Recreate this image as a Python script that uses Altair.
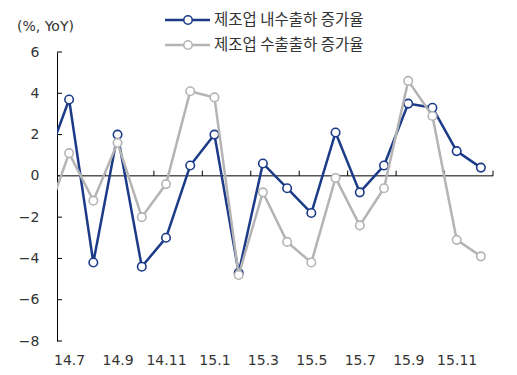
import altair as alt
import pandas as pd

# ---- data ----
months = ["14.6", "14.7", "14.8", "14.9", "14.10", "14.11", "14.12",
          "15.1", "15.2", "15.3", "15.4", "15.5", "15.6",
          "15.7", "15.8", "15.9", "15.10", "15.11", "15.12"]
domestic = [0.5, 3.7, -4.2, 2.0, -4.4, -3.0, 0.5, 2.0, -4.7, 0.6,
            -0.6, -1.8, 2.1, -0.8, 0.5, 3.5, 3.3, 1.2, 0.4]
export = [-2.2, 1.1, -1.2, 1.6, -2.0, -0.4, 4.1, 3.8, -4.8, -0.8,
          -3.2, -4.2, -0.1, -2.4, -0.6, 4.6, 2.9, -3.1, -3.9]
series_names = ["제조업 내수출하 증가율", "제조업 수출출하 증가율"]
series_colors = ["#1B3A87", "#B4B4B4"]
y_ticks = [-8, -6, -4, -2, 0, 2, 4, 6]
x_label_idx = [1, 3, 5, 7, 9, 11, 13, 15, 17]
x_tick_pos = [2.5, 4.5, 6.5, 8.5, 10.5, 12.5, 14.5, 16.5, 18.5]
unit_label = "(%, YoY)"

W, H = 436, 289
FONT = "DejaVu Sans"
KFONT = "Noto Sans CJK KR"

rows = []
for name, vals in zip(series_names, [domestic, export]):
    for i, (m, v) in enumerate(zip(months, vals)):
        rows.append({"idx": i, "month": m, "value": v, "series": name})
df = pd.DataFrame(rows)

label_expr = "[" + ",".join("'%s'" % m for m in months) + "][datum.value]"

xscale = alt.Scale(domain=[0.5, 18.5], nice=False, zero=False)
yscale = alt.Scale(domain=[-8, 6], nice=False, zero=False)

x_axis = alt.Axis(values=x_label_idx, labelExpr=label_expr, domain=False, ticks=False,
                  grid=False, labelPadding=12, labelFont=FONT, labelFontSize=14,
                  labelColor="#333333", title=None)
y_axis = alt.Axis(values=y_ticks, domain=True, domainColor="black", domainWidth=1,
                  ticks=False, grid=False, labelPadding=18, labelFont=FONT,
                  labelFontSize=14, labelColor="#333333", title=None,
                  labelFlush=False, format="d")

base = alt.Chart(df)

# axis frame helpers
zero_df = pd.DataFrame({"a": [0.5], "b": [18.5], "y": [0]})
zero_line = alt.Chart(zero_df).mark_rule(color="black", strokeWidth=1).encode(
    x=alt.X("a:Q", scale=xscale, axis=x_axis),
    x2="b:Q",
    y=alt.Y("y:Q", scale=yscale, axis=y_axis),
)
xt_df = pd.DataFrame({"x": x_tick_pos})
x_ticks = alt.Chart(xt_df).mark_rule(color="black", strokeWidth=1).encode(
    x=alt.X("x:Q", scale=xscale),
    y=alt.datum(0),
    y2=alt.datum(0.25),
)
yt_df = pd.DataFrame({"y": y_ticks})
y_tick_marks = alt.Chart(yt_df).mark_rule(color="black", strokeWidth=1).encode(
    x=alt.value(0),
    x2=alt.value(5),
    y=alt.Y("y:Q", scale=yscale),
)

layers = [zero_line, x_ticks, y_tick_marks]
for name, col in zip(series_names, series_colors):
    sub = base.transform_filter(alt.datum.series == name)
    line = sub.mark_line(clip=True, strokeWidth=2.5, color=col).encode(
        x=alt.X("idx:Q", scale=xscale),
        y=alt.Y("value:Q", scale=yscale),
        order="idx:Q",
    )
    pts = sub.transform_filter(alt.datum.idx >= 1).mark_point(
        shape="circle", filled=True, fill="white", stroke=col, strokeWidth=1.6,
        size=72, opacity=1, clip=True,
    ).encode(
        x=alt.X("idx:Q", scale=xscale),
        y=alt.Y("value:Q", scale=yscale),
    )
    layers += [line, pts]

# manual legend
leg_df = pd.DataFrame({"series": series_names, "color": series_colors, "row": [0, 1]})
leg_ypix = {0: -32, 1: -7}
for i, (name, col) in enumerate(zip(series_names, series_colors)):
    one = alt.Chart(leg_df).transform_filter(alt.datum.row == i)
    ly = leg_ypix[i]
    layers.append(one.mark_rule(color=col, strokeWidth=2.5).encode(
        x=alt.value(108), x2=alt.value(153), y=alt.value(ly)))
    layers.append(one.mark_point(shape="circle", filled=True, fill="white", stroke=col,
                                 strokeWidth=1.6, size=72, opacity=1).encode(
        x=alt.value(131), y=alt.value(ly)))
    layers.append(one.mark_text(align="left", baseline="middle", font=KFONT,
                                fontSize=15.5, color="#333333").encode(
        x=alt.value(157), y=alt.value(ly), text="series:N"))

unit_df = pd.DataFrame({"t": [unit_label]})
layers.append(alt.Chart(unit_df).mark_text(align="left", baseline="middle", font=FONT,
                                           fontSize=14, color="#333333").encode(
    x=alt.value(-40), y=alt.value(-25), text="t:N"))

chart = alt.layer(*layers).properties(
    width=W, height=H,
    autosize=alt.AutoSizeParams(type="none"),
    padding={"left": 49, "top": 44, "right": 16, "bottom": 26},
    background="white",
).configure_view(stroke=None)

chart.save("out.html", embed_options={"renderer": "svg", "actions": False})
